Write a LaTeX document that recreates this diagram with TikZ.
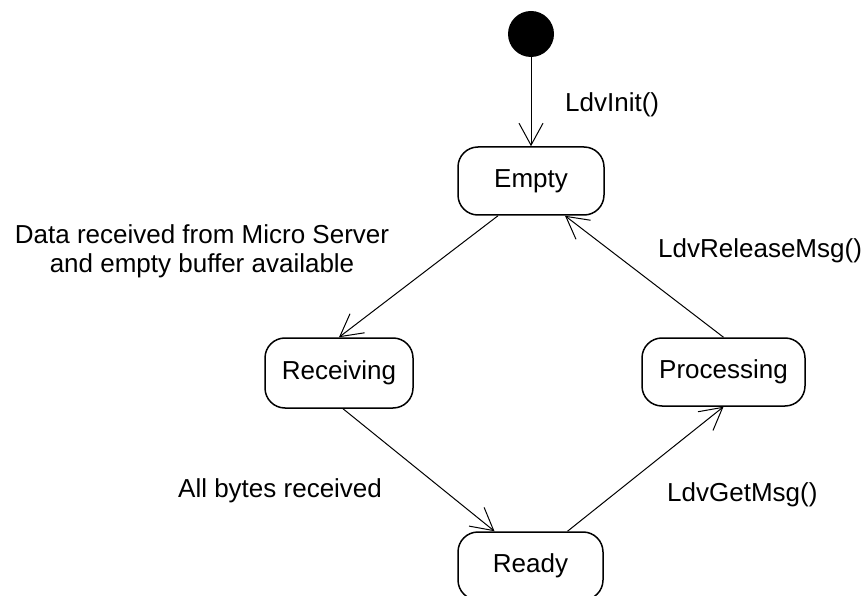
\documentclass[tikz,border=0pt]{standalone}
\usepackage{fontspec}
\setmainfont{Liberation Sans}
\usetikzlibrary{arrows.meta}
\begin{document}
\begin{tikzpicture}[x=1pt,y=-1pt,
  state/.style={draw, line width=1.5pt, rounded corners=20pt, minimum height=68pt,
    font=\fontsize{26}{30}\selectfont, inner sep=0pt},
  trans/.style={line width=1pt, -{Straight Barb[length=22pt,width=24pt,line width=1pt]}},
  lbl/.style={font=\fontsize{26}{29}\selectfont, align=center, inner sep=0pt}]
\clip (0,0) rectangle (868,596);
\fill[white] (0,0) rectangle (868,596);

% initial pseudo-state
\node[circle, fill=black, minimum size=46pt, inner sep=0pt] (init) at (531,34) {};

% states
\node[state, minimum width=146pt] (empty) at (531,181) {Empty};
\node[state, minimum width=148pt, minimum height=70pt] (recv) at (339,373) {Receiving};
\node[state, minimum width=163pt] (proc) at (723.5,372) {Processing};
\node[state, minimum width=145pt] (ready) at (530.5,566) {Ready};

% transitions
\draw[trans] (init.south) -- (empty.north);
\draw[trans] ([xshift=-33pt]empty.south) -- (recv.north);
\draw[trans] ([xshift=4pt]recv.south) -- ([xshift=-36pt]ready.north);
\draw[trans] ([xshift=37pt]ready.north) -- (proc.south);
\draw[trans] (proc.north) -- ([xshift=34pt]empty.south);

% transition labels
\node[lbl, anchor=base west] (linit) at (565,112) {LdvInit()};
\node[lbl] (ldata) at (202,251.5) {Data received from Micro Server\\and empty buffer available};
\node[lbl, anchor=base west] (lrel) at (658,258) {LdvReleaseMsg()};
\node[lbl, anchor=base west] (lall) at (178,497) {All bytes received};
\node[lbl, anchor=base west] (lget) at (667,501) {LdvGetMsg()};
\end{tikzpicture}
\end{document}
